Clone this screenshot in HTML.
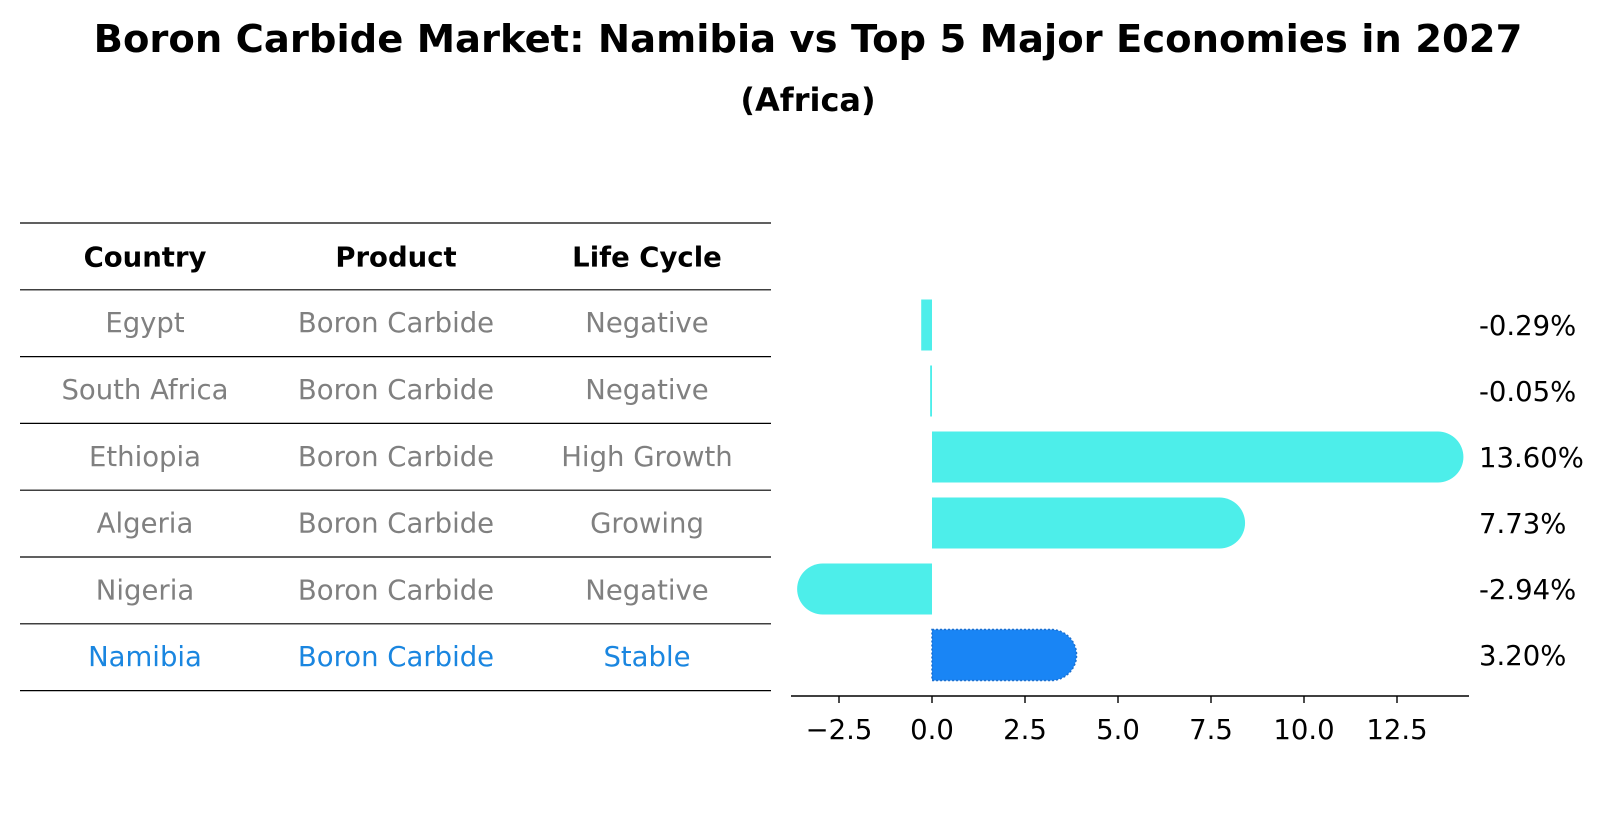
<!DOCTYPE html>
<html><head><meta charset="utf-8"><style>
body{margin:0;background:#fff;}
svg text{font-family:"DejaVu Sans","Liberation Sans",sans-serif;}
</style></head><body>
<svg id="c" width="1604" height="823" xmlns="http://www.w3.org/2000/svg">
<text x="808" y="52" text-anchor="middle" font-size="38.5" font-weight="bold">Boron Carbide Market: Namibia vs Top 5 Major Economies in 2027</text>
<text x="808" y="111" text-anchor="middle" font-size="32" font-weight="bold">(Africa)</text>
<g id="tbl"></g>
<g id="bars"></g>
</svg>
<script>
const countries=["Egypt","South Africa","Ethiopia","Algeria","Nigeria","Namibia"];
const lifeCycle=["Negative","Negative","High Growth","Growing","Negative","Stable"];
const growth=[-0.29,-0.05,13.60,7.73,-2.94,3.20];
const ticks=[-2.5,0,2.5,5,7.5,10,12.5];
const tickLabels=["−2.5","0.0","2.5","5.0","7.5","10.0","12.5"];
const NS="http://www.w3.org/2000/svg";
function mk(t,a,p){const e=document.createElementNS(NS,t);for(const k in a)e.setAttribute(k,a[k]);p.appendChild(e);return e;}
const tbl=document.getElementById('tbl'),bars=document.getElementById('bars');
const rowH=66.8,top0=223,colX=[145,396,647],FS=27.5;
function ln(y){const l=mk('line',{x1:20,x2:771,y1:y,y2:y,stroke:'#000','stroke-width':1.2},tbl);

}
for(let i=0;i<=7;i++)ln(top0+i*rowH);
["Country","Product","Life Cycle"].forEach((h,j)=>{const t=mk('text',{x:colX[j],y:top0+rowH/2+10,'text-anchor':'middle','font-size':FS,'font-weight':'bold'},tbl);t.textContent=h;

});
countries.forEach((c,i)=>{const col=c==="Namibia"?"#1a86e0":"#808080";
[c,"Boron Carbide",lifeCycle[i]].forEach((v,j)=>{const t=mk('text',{x:colX[j],y:top0+rowH*(i+1.5)+9,'text-anchor':'middle','font-size':FS,fill:col},tbl);t.textContent=v;

});});
const x0=932,s=37.2;function X(v){return x0+v*s;}
const yc=[325,389,455,522,588,655],bh=51;
function Y(i){return yc[0]+i*(yc[5]-yc[0])/5;}
const ax=mk('line',{x1:791,x2:1469,y1:696,y2:696,stroke:'#000','stroke-width':1.6},bars);


ticks.forEach((v,i)=>{const tk=mk('line',{x1:X(v),x2:X(v),y1:696,y2:703,stroke:'#000','stroke-width':1.4},bars);


const t=mk('text',{x:X(v),y:739,'text-anchor':'middle','font-size':FS},bars);t.textContent=tickLabels[i];

});
growth.forEach((v,i)=>{const y=Y(i)-bh/2,r=bh/2,w=Math.abs(v)*s,dir=v<0?-1:1;
const col=countries[i]==="Namibia"?"#1985f5":"#4deeea";let el;
if(w>2*r){const xe=X(v);
el=mk('path',{d:`M${X(0)},${y} L${xe},${y} A${r},${r} 0 0 ${dir>0?1:0} ${xe},${y+bh} L${X(0)},${y+bh} Z`,fill:col},bars);
}else{el=mk('rect',{x:Math.min(X(0),X(v)),y:y,width:Math.max(w,1),height:bh,fill:col},bars);}
if(countries[i]==="Namibia"){el.setAttribute('stroke','#1a6fd0');el.setAttribute('stroke-dasharray','2,2');el.setAttribute('stroke-width','1.5');}


const t=mk('text',{x:1479,y:Y(i)+10,'font-size':FS},bars);t.textContent=v.toFixed(2)+"%";

});
</script>
</body></html>
